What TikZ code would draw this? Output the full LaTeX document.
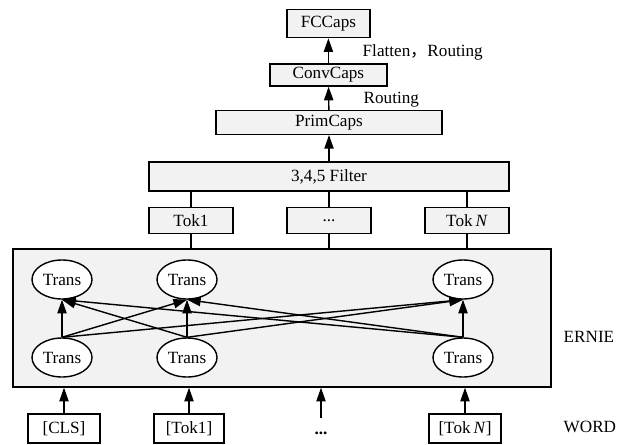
\documentclass[tikz,border=0pt]{standalone}
\usepackage{fontspec}
\setmainfont{Liberation Serif}
\newfontfamily\cjk{Noto Sans CJK SC}
\usepackage{tikz}
\usetikzlibrary{
	arrows.meta,
	calc,
	positioning,
	shapes,
}
\tikzset{default node/.style={
	draw,
	rectangle,
	inner sep=0mm,
	line width=1pt,
	font=\fontsize{12.2}{14}\selectfont,
	black,
}}
\tikzset{caps box/.style={
	default node,
	fill=black!5,
	minimum height=6.5mm,
}}
\tikzset{trans node/.style={
	default node,
	ellipse,
	fill=white,
	minimum width=15mm,
	minimum height=9.75mm,
}}
\tikzset{word box/.style={
	default node,
	fill=white,
	minimum height=7.25mm,
}}
\tikzset{label/.style={
	draw=none,
	anchor=base west,
}}

\begin{document}
\begin{tikzpicture}[every node/.style={default node}, line width=1pt,
	>={Triangle[length=3.4mm,width=2.3mm]}]

\useasboundingbox (0,0) rectangle (15.65,11.1);

% capsule part
\node[caps box, minimum width=20.75mm, minimum height=7mm](fc) 		at (8.21,10.51) {FCCaps};
\node[caps box, minimum width=29.25mm, minimum height=5.5mm](conv) 	at (8.21,9.225) {ConvCaps};
\node[caps box, minimum width=56.5mm, minimum height=5.9mm](prim) 	at (8.225,8.0375) {PrimCaps};
\node[caps box, minimum width=90mm, minimum height=7.25mm](filter) 	at (8.225,6.6875) {3,4,5 Filter};

\node[caps box, minimum width=21mm](tok1) 	at (4.775,5.5875) {Tok1};
\node[caps box, minimum width=21mm](tokd) 	at (8.225,5.5875) {...};
\node[caps box, minimum width=21mm](tokn) 	at (11.675,5.5875) {Tok\,\textit{N}};

\node[label](lflat) 	at (9.05,9.69) {Flatten{\cjk ，}Routing};
\node[label](lrout) 	at (9.075,8.51) {Routing};

% ERNIE
\node[caps box, minimum width=134.5mm, minimum height=34.5mm](ernie) at (7.05,3.15) {};
\node[label, anchor=west](lernie) 	at (14.075,2.675) {ERNIE};

\node[trans node](t1) 	at (1.55,4.1125) {Trans};
\node[trans node](t2) 	at (4.675,4.1125) {Trans};
\node[trans node](t3) 	at (11.575,4.1125) {Trans};

\node[trans node](b1) 	at (1.55,2.1625) {Trans};
\node[trans node](b2) 	at (4.675,2.1625) {Trans};
\node[trans node](b3) 	at (11.575,2.1625) {Trans};

% words
\node[word box, minimum width=18mm](wcls) 	at (1.6,0.3875) {[CLS]};
\node[word box, minimum width=17.5mm](wtok1) 	at (4.725,0.3875) {[Tok1]};
\node[draw=none](wdots) 	at (8.025,0.275) {\textbf{...}};
\coordinate (wdotstop) at (8.025,0.65);
\node[word box, minimum width=18mm](wtokn) 	at (11.625,0.3875) {[Tok\,\textit{N}]};
\node[label, anchor=west](lword) 	at (14.075,0.425) {WORD};

% capsules upward
\draw[->] (conv) -- (fc);
\draw[->] (prim) -- (conv);
\draw[->] (filter) -- (prim);

% tokens -> filter
\foreach \t in {tok1,tokd,tokn} {
	\draw (\t) -- (\t |- filter.south);
	\draw (\t) -- (\t |- ernie.north);
}

% words -> ERNIE
\draw[->] (wcls) -- (wcls |- ernie.south);
\draw[->] (wtok1) -- (wtok1 |- ernie.south);
\draw[->] (wdotstop) -- (wdotstop |- ernie.south);
\draw[->] (wtokn) -- (wtokn |- ernie.south);

% trans layers
\newcommand{\tarrow}[2]{
\draw[->] (#1.north) -- (#2.south);
}

\tarrow{b1}{t1}
\tarrow{b1}{t2}
\tarrow{b1}{t3}
\tarrow{b2}{t1}
\tarrow{b2}{t2}
\tarrow{b2}{t3}
\tarrow{b3}{t1}
\tarrow{b3}{t2}
\tarrow{b3}{t3}

\end{tikzpicture}
\end{document}
